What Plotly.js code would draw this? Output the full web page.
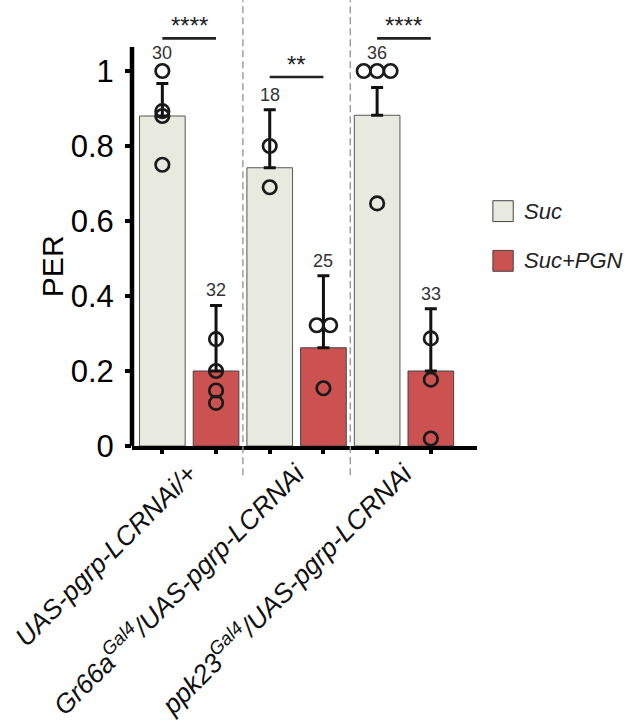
<!DOCTYPE html>
<html><head><meta charset="utf-8">
<script src="https://cdn.plot.ly/plotly-3.0.1.min.js"></script>
<style>html,body{margin:0;padding:0;background:#fff}</style>
</head><body><div id="chart" style="width:643px;height:720px"></div>
<script>
// ---- data ----
const genotypes = ['<i>UAS-pgrp-LCRNAi/+</i>', '<i>Gr66a<sup>Gal4</sup>/UAS-pgrp-LCRNAi</i>', '<i>ppk23<sup>Gal4</sup>/UAS-pgrp-LCRNAi</i>'];
const conditions = ['Suc', 'Suc+PGN'];
const sucMean = [0.88, 0.742, 0.882];
const sucErrUp = [0.087, 0.155, 0.074];
const pgnMean = [0.20, 0.262, 0.20];
const pgnErrUp = [0.175, 0.192, 0.166];
const sucPoints = [[1.0, 0.893, 0.88, 0.75], [0.8, 0.69], [1.0, 1.0, 1.0, 0.647]];
const pgnPoints = [[0.285, 0.2, 0.148, 0.115], [0.322, 0.322, 0.154], [0.287, 0.177, 0.02]];
const sucN = [30, 18, 36];
const pgnN = [32, 25, 33];
const signif = ['****', '**', '****'];
const yTickVals = [0, 0.2, 0.4, 0.6, 0.8, 1];
const yTickText = ['0', '0.2', '0.4', '0.6', '0.8', '1'];

// ---- styling ----
const FONT = 'Liberation Sans, Arial, Helvetica, sans-serif';
const colSuc = '#E8EAE0', colPgn = '#CC5252';
const YMAX = 1.184, XMIN = -0.565, XMAX = 5.86;
const PXPERUNIT = 375;

const xSuc = genotypes.map((g, i) => 2 * i);
const xPgn = genotypes.map((g, i) => 2 * i + 1);

function spread(xs, pts) {
  const X = [], Y = [];
  pts.forEach((arr, gi) => {
    arr.forEach((v, i) => {
      const same = arr.filter(w => w === v).length;
      const idx = arr.slice(0, i).filter(w => w === v).length;
      X.push(xs[gi] + (idx - (same - 1) / 2) * 0.25);
      Y.push(v);
    });
  });
  return {X, Y};
}
const sp = spread(xSuc, sucPoints), pp = spread(xPgn, pgnPoints);

const barCommon = {type: 'bar', width: 0.85, hoverinfo: 'skip', showlegend: false,
  error_y: {type: 'data', symmetric: false, color: '#111', thickness: 3, width: 6}};
const traces = [
  Object.assign({}, barCommon, {name: conditions[0], x: xSuc, y: sucMean,
    marker: {color: colSuc, line: {color: '#555', width: 1}},
    error_y: Object.assign({}, barCommon.error_y, {array: sucErrUp, arrayminus: sucMean.map(() => 0)})}),
  Object.assign({}, barCommon, {name: conditions[1], x: xPgn, y: pgnMean,
    marker: {color: colPgn, line: {color: '#444', width: 1}},
    error_y: Object.assign({}, barCommon.error_y, {array: pgnErrUp, arrayminus: pgnMean.map(() => 0)})}),
  {type: 'scatter', mode: 'markers', x: sp.X, y: sp.Y, cliponaxis: false, showlegend: false, hoverinfo: 'skip',
    marker: {symbol: 'circle', size: 13.5, color: 'rgba(0,0,0,0)', line: {color: '#1a1a1a', width: 2.7}}},
  {type: 'scatter', mode: 'markers', x: pp.X, y: pp.Y, cliponaxis: false, showlegend: false, hoverinfo: 'skip',
    marker: {symbol: 'circle', size: 13.5, color: 'rgba(0,0,0,0)', line: {color: '#1a1a1a', width: 2.7}}},
  {type: 'scatter', mode: 'markers', x: [0.5], y: [0], xaxis: 'x2', showlegend: false, hoverinfo: 'skip',
    marker: {opacity: 0}}
];

const annotations = [], shapes = [];
function nLabel(x, mean, err, pts, n) {
  const errTop = mean + err, ptTop = Math.max(...pts);
  const fromPts = ptTop + 8 / PXPERUNIT >= errTop;
  annotations.push({x: x, y: fromPts ? ptTop : errTop, xref: 'x', yref: 'y', text: String(n),
    showarrow: false, yanchor: 'bottom', yshift: fromPts ? 6 : 3,
    font: {family: FONT, size: 18, color: '#333'}});
  return Math.max(errTop, ptTop);
}
genotypes.forEach((g, i) => {
  const t1 = nLabel(xSuc[i], sucMean[i], sucErrUp[i], sucPoints[i], sucN[i]);
  const t2 = nLabel(xPgn[i], pgnMean[i], pgnErrUp[i], pgnPoints[i], pgnN[i]);
  const by = Math.max(t1, t2) + 0.087;
  shapes.push({type: 'line', xref: 'x', yref: 'y', x0: xSuc[i], x1: xPgn[i], y0: by, y1: by,
    line: {color: '#222', width: 2.6}});
  annotations.push({x: (xSuc[i] + xPgn[i]) / 2, y: by, xref: 'x', yref: 'y', text: signif[i],
    showarrow: false, yanchor: 'bottom', yshift: -3, font: {family: FONT, size: 24, color: '#222'}});
});
// group separators
[1.5, 3.5].forEach(xv => shapes.push({type: 'line', xref: 'x', yref: 'paper', x0: xv, x1: xv,
  y0: -0.066, y1: 1.004, line: {color: '#999', width: 1.4, dash: '7px,4px'}}));
// y axis line
shapes.push({type: 'line', xref: 'paper', yref: 'y', x0: 0, x1: 0, y0: -0.006, y1: 1.064,
  line: {color: '#000', width: 4.5}});
// y axis title
annotations.push({xref: 'paper', yref: 'paper', x: -0.232, y: 0.405, xanchor: 'center', yanchor: 'middle',
  text: 'PER', textangle: -90, showarrow: false, font: {family: FONT, size: 30, color: '#000'}});
// legend
const legCols = [colSuc, colPgn], legY = [0.529, 0.417];
conditions.forEach((c, i) => {
  shapes.push({type: 'rect', xref: 'paper', yref: 'paper', x0: 1.046, x1: 1.105,
    y0: legY[i] - 0.0235, y1: legY[i] + 0.0235, fillcolor: legCols[i], line: {color: '#444', width: 1}});
  annotations.push({xref: 'paper', yref: 'paper', x: 1.13, y: legY[i], xanchor: 'left', yanchor: 'middle',
    text: '<i>' + c + '</i>', showarrow: false, font: {family: FONT, size: 22, color: '#222'}});
});

const layout = {
  width: 643, height: 720,
  margin: {l: 132, r: 166, t: 2, b: 274},
  paper_bgcolor: '#fff', plot_bgcolor: '#fff',
  showlegend: false, bargap: 0,
  font: {family: FONT, color: '#000'},
  xaxis: {range: [XMIN, XMAX], showgrid: false, zeroline: false, showline: true, linecolor: '#000',
    linewidth: 4, ticks: 'outside', ticklen: 4, tickwidth: 4, tickcolor: '#000',
    tickvals: [0, 1, 2, 3, 4, 5], showticklabels: false},
  xaxis2: {overlaying: 'x', anchor: 'y', side: 'bottom', range: [XMIN, XMAX], showgrid: false, zeroline: false,
    showline: false, ticks: '', tickvals: [0.5, 2.5, 4.5], ticktext: genotypes, tickangle: -45,
    tickfont: {family: FONT, size: 26.5, color: '#111'}, ticklabelstandoff: 6},
  yaxis: {range: [0, YMAX], showgrid: false, zeroline: false, showline: false,
    ticks: 'outside', ticklen: 6, tickwidth: 4, tickcolor: '#000',
    tickvals: yTickVals, ticktext: yTickText, tickfont: {family: FONT, size: 31, color: '#000'},
    ticklabelstandoff: 5},
  shapes: shapes, annotations: annotations
};
Plotly.newPlot('chart', traces, layout, {staticPlot: true, displayModeBar: false});
</script></body></html>
